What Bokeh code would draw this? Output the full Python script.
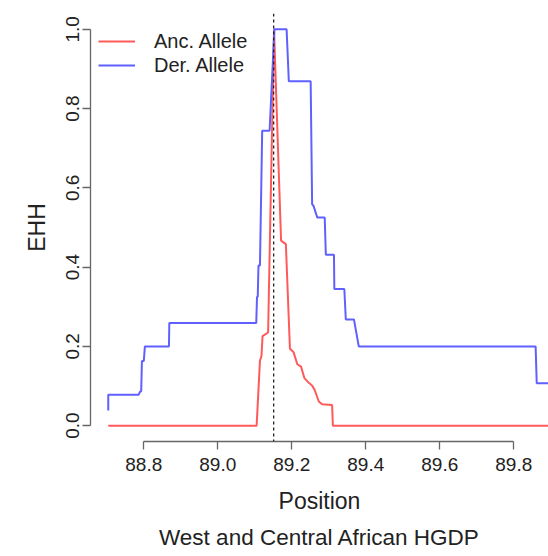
from bokeh.plotting import figure
from bokeh.models import (Range1d, FixedTicker, PrintfTickFormatter, Span, Legend,
                          LegendItem, Title)
from bokeh.embed import file_html
from bokeh.resources import INLINE

# ---- data ----
der_pos = [88.704, 88.704, 88.786, 88.790, 88.793, 88.795, 88.800, 88.803, 88.868, 88.869,
           89.104, 89.106, 89.108, 89.110, 89.114, 89.120, 89.140, 89.153, 89.186, 89.192,
           89.251, 89.255, 89.259, 89.269, 89.289, 89.292, 89.314, 89.315, 89.342, 89.346,
           89.368, 89.381, 89.859, 89.862, 89.910]
der_ehh = [0.038, 0.078, 0.078, 0.086, 0.086, 0.163, 0.163, 0.200, 0.200, 0.259,
           0.259, 0.325, 0.325, 0.404, 0.404, 0.744, 0.744, 1.000, 1.000, 0.869,
           0.869, 0.559, 0.554, 0.525, 0.525, 0.431, 0.431, 0.345, 0.345, 0.268,
           0.268, 0.200, 0.200, 0.107, 0.107]

anc_pos = [88.704, 89.105, 89.114, 89.118, 89.121, 89.136, 89.152, 89.171, 89.184, 89.195,
           89.205, 89.215, 89.225, 89.234, 89.243, 89.255, 89.262, 89.273, 89.282, 89.309,
           89.311, 89.910]
anc_ehh = [0.000, 0.000, 0.164, 0.175, 0.226, 0.235, 1.000, 0.467, 0.458, 0.194,
           0.185, 0.155, 0.149, 0.120, 0.111, 0.101, 0.090, 0.061, 0.054, 0.052,
           0.000, 0.000]

core_snp = 89.151
x_ticks = [88.8, 89.0, 89.2, 89.4, 89.6, 89.8]
y_ticks = [0.0, 0.2, 0.4, 0.6, 0.8, 1.0]

FONT = "Liberation Sans"
AXIS_COL = "#666666"
TEXT_COL = "#222222"

p = figure(width=548, height=556, output_backend="svg", toolbar_location=None,
           x_range=Range1d(88.656, 89.8938), y_range=Range1d(-0.04, 1.04),
           min_border_left=90, min_border_right=0, min_border_top=13, min_border_bottom=113)
p.outline_line_color = None
p.xgrid.visible = False
p.ygrid.visible = False
p.background_fill_color = "white"
p.border_fill_color = "white"

r_anc = p.line(anc_pos, anc_ehh, line_color="#FF5A5A", line_width=2)
r_der = p.line(der_pos, der_ehh, line_color="#6060FF", line_width=2)

p.add_layout(Span(location=core_snp, dimension="height", line_color="#222222",
                  line_dash="3 3", line_width=1.3))

for ax in (p.xaxis[0], p.yaxis[0]):
    ax.axis_line_color = AXIS_COL
    ax.major_tick_line_color = AXIS_COL
    ax.minor_tick_line_color = None
    ax.major_tick_in = 0
    ax.major_tick_out = 8
    ax.major_label_text_font = FONT
    ax.major_label_text_font_size = "19px"
    ax.major_label_text_color = TEXT_COL
    ax.axis_label_text_font = FONT
    ax.axis_label_text_font_size = "23px"
    ax.axis_label_text_font_style = "normal"
    ax.axis_label_text_color = TEXT_COL
    ax.axis_line_width = 1.3
    ax.major_tick_line_width = 1.3

p.xaxis[0].ticker = FixedTicker(ticks=x_ticks)
p.xaxis[0].formatter = PrintfTickFormatter(format="%.1f")
p.xaxis[0].bounds = (x_ticks[0], x_ticks[-1])
p.xaxis[0].axis_label = "Position"
p.xaxis[0].major_label_standoff = 8
p.xaxis[0].axis_label_standoff = 14

p.yaxis[0].ticker = FixedTicker(ticks=y_ticks)
p.yaxis[0].formatter = PrintfTickFormatter(format="%.1f")
p.yaxis[0].bounds = (y_ticks[0], y_ticks[-1])
p.yaxis[0].axis_label = "EHH"
p.yaxis[0].major_label_orientation = "vertical"
p.yaxis[0].major_label_standoff = 3
p.yaxis[0].axis_label_standoff = 14

p.add_layout(Title(text="West and Central African HGDP", text_font=FONT,
                   text_font_size="22.5px", text_font_style="normal",
                   text_color=TEXT_COL, align="center", standoff=13), "below")

legend = Legend(items=[LegendItem(label="Anc. Allele", renderers=[r_anc]),
                       LegendItem(label="Der. Allele", renderers=[r_der])],
                location=(8, 364), padding=4, margin=0, spacing=0,
                glyph_width=37, glyph_height=24, label_height=24,
                label_standoff=19, label_text_font=FONT, label_text_font_size="20px",
                label_text_color=TEXT_COL, border_line_color=None,
                background_fill_alpha=0)
p.add_layout(legend, "center")

open("out.html", "w").write(file_html(p, INLINE))
